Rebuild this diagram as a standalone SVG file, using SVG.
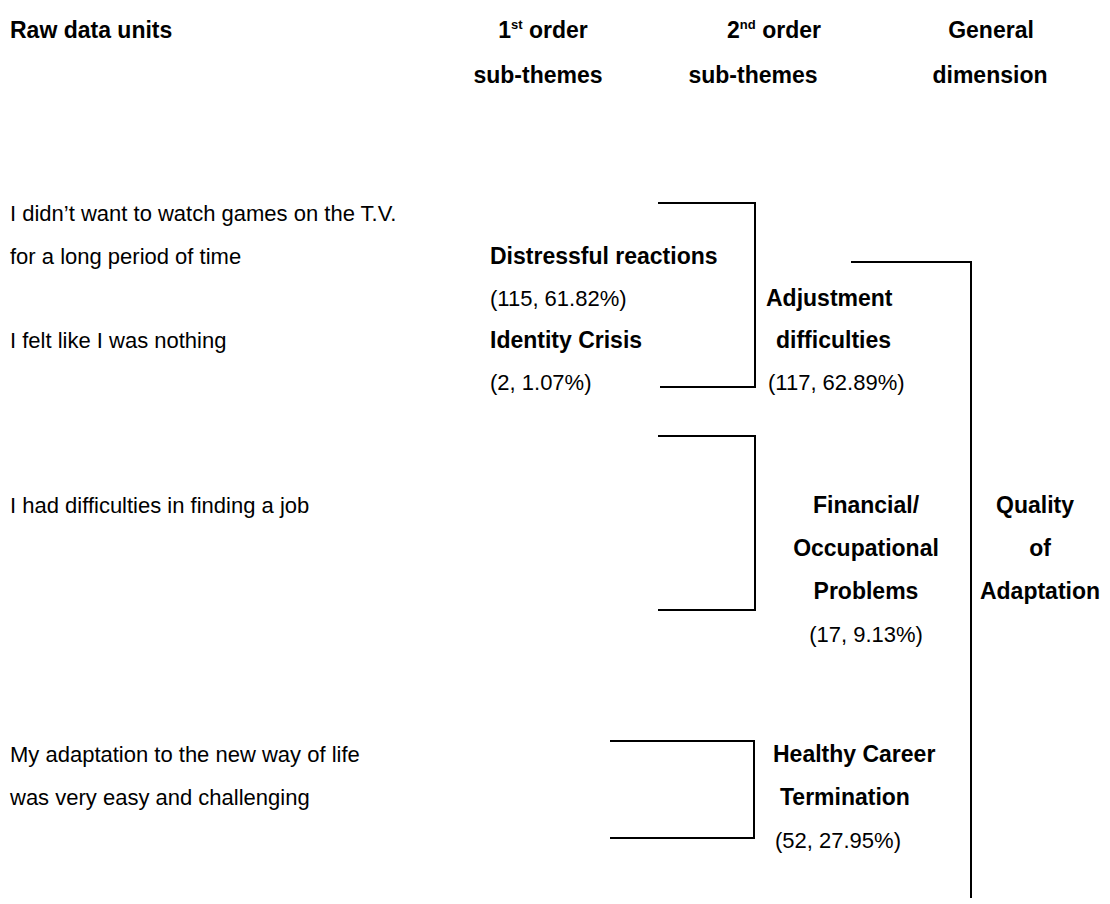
<svg xmlns="http://www.w3.org/2000/svg" width="1110" height="904" viewBox="0 0 1110 904">
  <style>
    text { font-family: "Liberation Sans", Arial, sans-serif; font-size: 22px; fill: #000; }
    .b { font-weight: bold; font-size: 23px; }
    .h { font-weight: bold; font-size: 23px; }
    .m { text-anchor: middle; }
    .sup { font-size: 13px; }
    .link { fill: none; stroke: #000; stroke-width: 2; }
  </style>
  <rect width="1110" height="904" fill="#fff"/>

  <!-- column headings -->
  <g id="headers">
    <text class="h" x="10" y="38">Raw data units</text>
    <text class="h m" x="543" y="38">1<tspan class="sup" dy="-9">st</tspan><tspan dy="9"> order</tspan></text>
    <text class="h m" x="538" y="83">sub-themes</text>
    <text class="h m" x="774" y="38">2<tspan class="sup" dy="-9">nd</tspan><tspan dy="9"> order</tspan></text>
    <text class="h m" x="753" y="83">sub-themes</text>
    <text class="h m" x="991" y="38">General</text>
    <text class="h m" x="990" y="83">dimension</text>
  </g>

  <!-- raw data units -->
  <g id="raw-units">
    <text x="10" y="221">I didn’t want to watch games on the T.V.</text>
    <text x="10" y="264">for a long period of time</text>
    <text x="10" y="348">I felt like I was nothing</text>
    <text x="10" y="513">I had difficulties in finding a job</text>
    <text x="10" y="762">My adaptation to the new way of life</text>
    <text x="10" y="805">was very easy and challenging</text>
  </g>

  <!-- 1st order sub-themes -->
  <g id="distressful-reactions">
    <text class="b" x="490" y="264">Distressful reactions</text>
    <text x="490" y="306">(115, 61.82%)</text>
  </g>
  <g id="identity-crisis">
    <text class="b" x="490" y="348">Identity Crisis</text>
    <text x="490" y="390">(2, 1.07%)</text>
  </g>

  <!-- 2nd order sub-themes -->
  <g id="adjustment-difficulties">
    <text class="b" x="766" y="306">Adjustment</text>
    <text class="b" x="776" y="348">difficulties</text>
    <text x="768" y="390">(117, 62.89%)</text>
  </g>
  <g id="financial-occupational">
    <text class="b m" x="866" y="513">Financial/</text>
    <text class="b m" x="866" y="556">Occupational</text>
    <text class="b m" x="866" y="599">Problems</text>
    <text class="m" x="866" y="642">(17, 9.13%)</text>
  </g>
  <g id="healthy-career-termination">
    <text class="b" x="773" y="762">Healthy Career</text>
    <text class="b" x="780" y="805">Termination</text>
    <text x="775" y="848">(52, 27.95%)</text>
  </g>

  <!-- general dimension -->
  <g id="quality-of-adaptation">
    <text class="b m" x="1035" y="513">Quality</text>
    <text class="b m" x="1040" y="556">of</text>
    <text class="b m" x="1040" y="599">Adaptation</text>
  </g>

  <!-- bracket connectors -->
  <g id="connectors" class="link">
    <polyline points="658,203 755,203 755,387 660,387"/>
    <polyline points="658,436 755,436 755,610 658,610"/>
    <polyline points="610,741 754,741 754,838 610,838"/>
    <polyline points="851,262 971,262 971,898"/>
  </g>
</svg>
